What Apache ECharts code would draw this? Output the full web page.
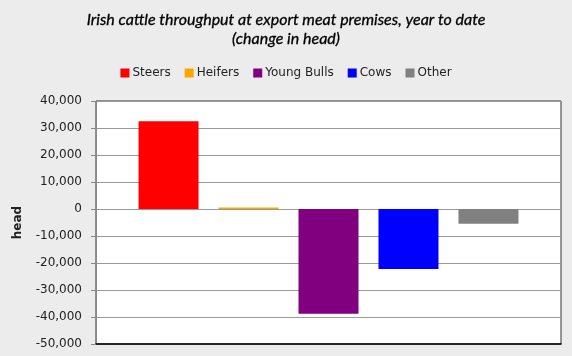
<!DOCTYPE html>
<html>
<head>
<meta charset="utf-8">
<script src="https://cdn.jsdelivr.net/npm/echarts@6/dist/echarts.min.js"></script>
<style>
html,body{margin:0;padding:0;background:#ececec;}
#c{width:572px;height:356px;}
</style>
</head>
<body>
<div id="c"></div>
<script>
var seriesNames = ['Steers', 'Heifers', 'Young Bulls', 'Cows', 'Other'];
var seriesValues = [32500, 600, -38800, -22200, -5500];
var seriesColors = ['#ff0000', '#ffa500', '#800080', '#0000ff', '#808080'];
var yTicks = [-50000, -40000, -30000, -20000, -10000, 0, 10000, 20000, 30000, 40000];
var titleLines = ['Irish cattle throughput at export meat premises, year to date', '(change in head)'];
var yAxisName = 'head';

var chart = echarts.init(document.getElementById('c'), null, {renderer: 'canvas'});
var series = seriesNames.map(function (n, i) {
  return {
    name: n,
    type: 'bar',
    data: [seriesValues[i]],
    barWidth: 60,
    barGap: '33.3%',
    itemStyle: {color: seriesColors[i]}
  };
});
chart.setOption({
  backgroundColor: '#ececec',
  animation: false,
  title: {
    text: titleLines.join('\n'),
    left: 'center',
    top: 5,
    textStyle: {fontFamily: 'Lato', fontStyle: 'italic', fontWeight: 'normal', fontSize: 16, color: '#000', lineHeight: 19, textBorderColor: '#000', textBorderWidth: 0.3}
  },
  legend: {
    data: seriesNames,
    top: 62,
    left: 'center',
    icon: 'rect',
    itemWidth: 9,
    itemHeight: 9,
    itemGap: 14,
    textStyle: {fontFamily: 'DejaVu Sans', fontSize: 12, color: '#222', padding: [0, 0, 0, -2]}
  },
  grid: {
    left: 96, right: 11, top: 101, bottom: 12,
    show: true, backgroundColor: '#ffffff', borderColor: '#333', borderWidth: 1
  },
  xAxis: {
    type: 'category',
    data: [''],
    axisLine: {show: true, onZero: false, lineStyle: {color: '#000', width: 1.5}},
    axisTick: {show: false},
    axisLabel: {show: false},
    splitLine: {show: false}
  },
  yAxis: {
    type: 'value',
    min: yTicks[0],
    max: yTicks[yTicks.length - 1],
    interval: 10000,
    name: yAxisName,
    nameLocation: 'middle',
    nameGap: 72,
    nameTextStyle: {fontFamily: 'DejaVu Sans', fontWeight: 'bold', fontSize: 12, color: '#222'},
    axisLine: {show: true, lineStyle: {color: '#888'}},
    axisTick: {show: true, length: 5, lineStyle: {color: '#888'}},
    axisLabel: {
      fontFamily: 'DejaVu Sans', fontSize: 12, color: '#222', margin: 14,
      formatter: function (v) { return v.toLocaleString('en-US'); }
    },
    splitLine: {show: true, lineStyle: {color: '#999', width: 1}}
  },
  series: series
});
</script>
</body>
</html>
